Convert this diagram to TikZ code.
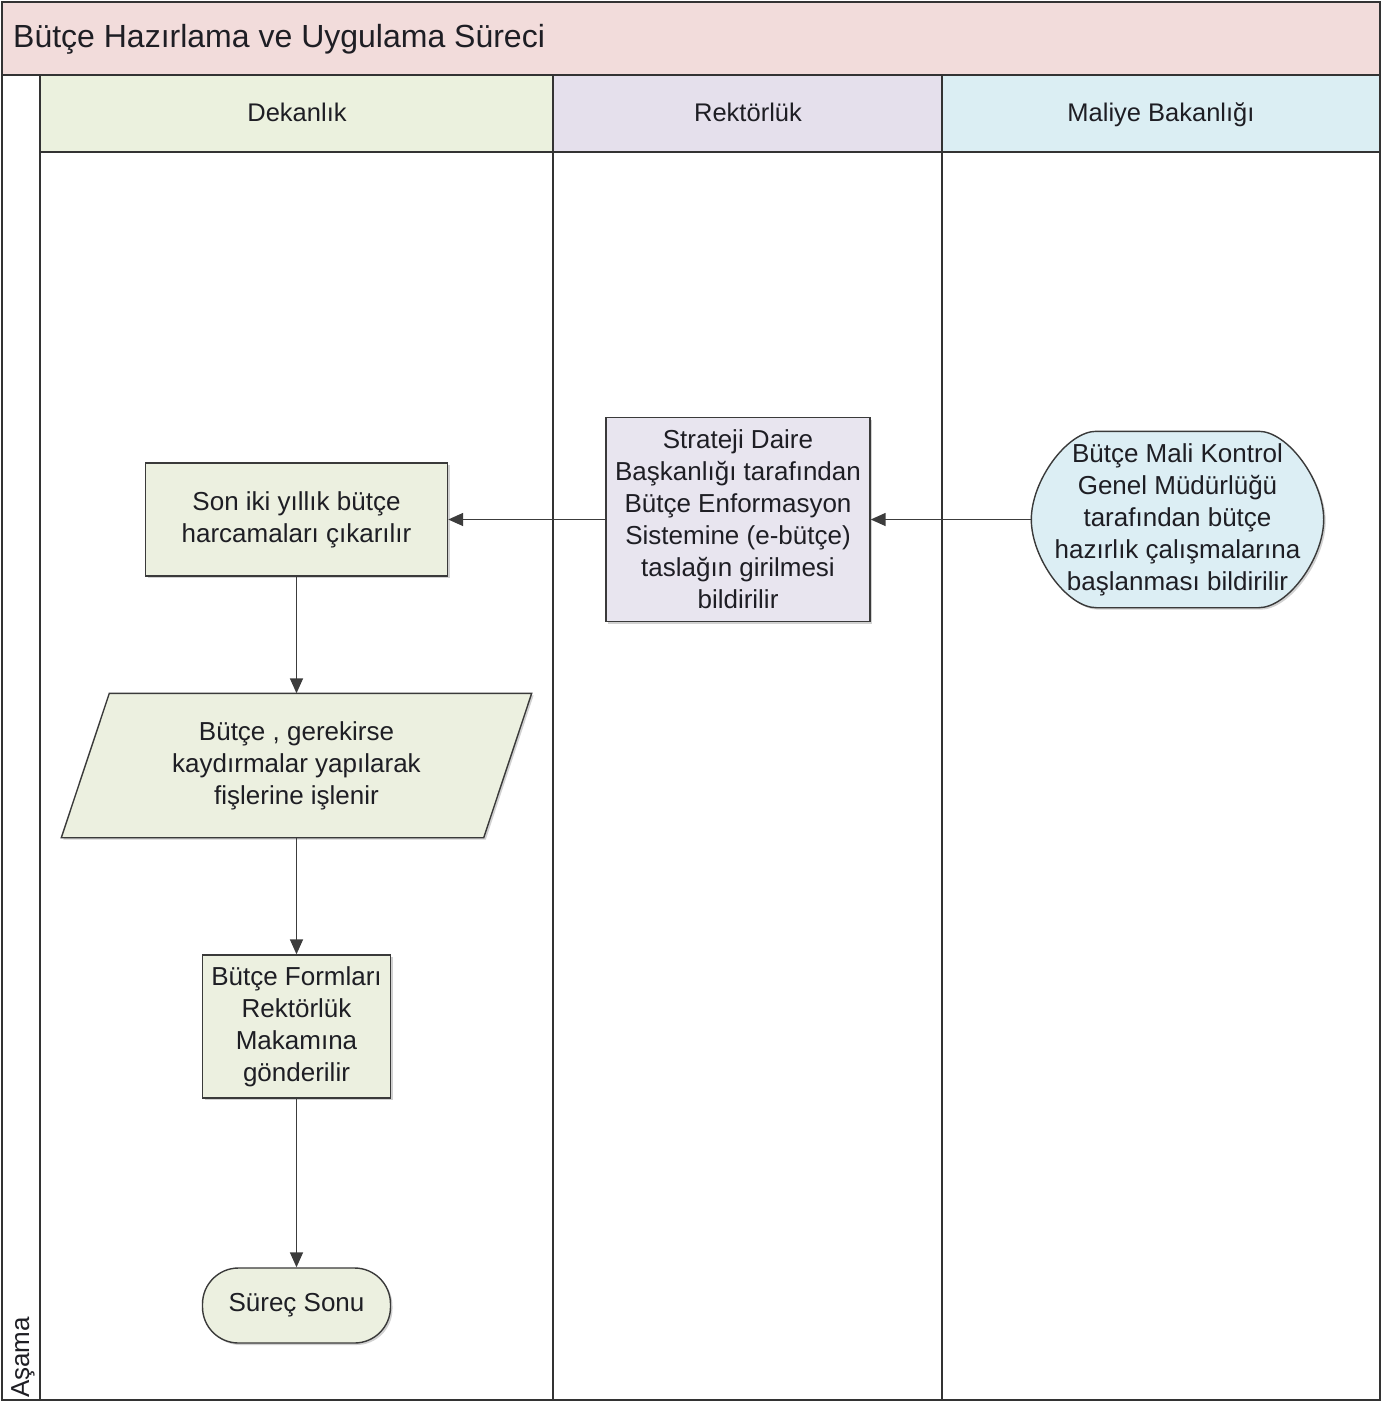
\documentclass[tikz,border=0pt]{standalone}
\usepackage{fontspec}
\setmainfont{Liberation Sans}
\usetikzlibrary{arrows.meta,shadows,backgrounds}

\definecolor{titlepink}{HTML}{F2DCDB}
\definecolor{hdrgreen}{HTML}{EBF1DE}
\definecolor{hdrlav}{HTML}{E5E0EC}
\definecolor{hdrblue}{HTML}{DBEEF3}
\definecolor{nodegreen}{HTML}{ECF0E0}
\definecolor{nodelav}{HTML}{E8E5EF}
\definecolor{nodeblue}{HTML}{DCEEF4}
\definecolor{framegray}{HTML}{333333}
\definecolor{boxline}{HTML}{3A3A3A}
\definecolor{arrowgray}{HTML}{3C3C3C}
\definecolor{textdark}{HTML}{1E1E24}

\begin{document}
\begin{tikzpicture}[x=1pt,y=-1pt,
  lane/.style={draw=framegray, line width=2.2pt},
  hdr/.style={font=\fontsize{25.5}{30}\selectfont, text=textdark, inner sep=0pt, anchor=base},
  box/.style={draw=boxline, line width=1.4pt, align=center,
    font=\fontsize{26}{32}\selectfont, text=textdark, inner sep=0pt},
  outline/.style={draw=boxline, line width=1.4pt},
  flow/.style={draw=arrowgray, line width=1.5pt,
    -{Triangle[length=15pt,width=13pt]}},
  shade/.style={drop shadow={shadow xshift=2pt,shadow yshift=-2pt,
    fill=black,opacity=0.18}}
]
\useasboundingbox (0,0) rectangle (1391,1402);
\begin{pgfonlayer}{background}
  \fill[white] (0,0) rectangle (1391,1402);
\end{pgfonlayer}

% title band and lane headers
\fill[titlepink] (2,2) rectangle (1380,75);
\fill[hdrgreen] (40,75) rectangle (553,152);
\fill[hdrlav] (553,75) rectangle (942,152);
\fill[hdrblue] (942,75) rectangle (1380,152);

% pool frame and lane separators
\draw[lane] (2,2) rectangle (1380,1400);
\draw[lane] (2,75) -- (1380,75);
\draw[lane] (40,75) -- (40,1400);
\draw[lane] (40,152) -- (1380,152);
\draw[lane] (553,75) -- (553,1400);
\draw[lane] (942,75) -- (942,1400);

% texts of the pool
\node[anchor=base west, inner sep=0pt, text=textdark, font=\fontsize{32}{36}\selectfont]
  (title) at (13,48) {Bütçe Hazırlama ve Uygulama Süreci};
\node[hdr] (hdek) at (297,121.5) {Dekanlık};
\node[hdr] (hrek) at (748,121.5) {Rektörlük};
\node[hdr] (hmal) at (1161,121.5) {Maliye Bakanlığı};
\node[rotate=90, anchor=west, inner sep=0pt, text=textdark,
  font=\fontsize{26}{30}\selectfont] (asama) at (23,1398) {Aşama};

% process steps
\node[box, fill=none, draw=none, minimum width=291pt, minimum height=175pt]
  (bmk) at (1177.5,519.5)
  {Bütçe Mali Kontrol\\Genel Müdürlüğü\\tarafından bütçe\\hazırlık çalışmalarına\\başlanması bildirilir};
\begin{pgfonlayer}{background}
  % terminator outline with oval ends
  \draw[outline, fill=nodeblue, shade]
    ([xshift=65pt]bmk.north west) -- ([xshift=-65pt]bmk.north east)
    .. controls ([xshift=-36pt]bmk.north east) and ([yshift=39pt]bmk.east) .. (bmk.east)
    .. controls ([yshift=-39pt]bmk.east) and ([xshift=-36pt]bmk.south east) .. ([xshift=-65pt]bmk.south east)
    -- ([xshift=65pt]bmk.south west)
    .. controls ([xshift=36pt]bmk.south west) and ([yshift=-39pt]bmk.west) .. (bmk.west)
    .. controls ([yshift=39pt]bmk.west) and ([xshift=36pt]bmk.north west) .. ([xshift=65pt]bmk.north west)
    -- cycle;
\end{pgfonlayer}

\node[box, fill=nodelav, minimum width=264pt, minimum height=204pt, shade]
  (sdb) at (738,519.5)
  {Strateji Daire\\Başkanlığı tarafından\\Bütçe Enformasyon\\Sistemine (e-bütçe)\\taslağın girilmesi\\bildirilir};

\node[box, fill=nodegreen, minimum width=302pt, minimum height=113pt, shade]
  (son) at (296.5,519.5) {Son iki yıllık bütçe\\harcamaları çıkarılır};

\node[box, fill=none, draw=none, minimum width=421pt, minimum height=143pt]
  (par) at (296.5,765.5) {Bütçe , gerekirse\\kaydırmalar yapılarak\\fişlerine işlenir};
\begin{pgfonlayer}{background}
  \draw[outline, fill=nodegreen, shade]
    ([xshift=24pt]par.north west) -- ([xshift=24pt]par.north east)
    -- ([xshift=-24pt]par.south east) -- ([xshift=-24pt]par.south west) -- cycle;
\end{pgfonlayer}

\node[box, fill=nodegreen, minimum width=188pt, minimum height=143pt, shade]
  (frm) at (296.5,1026.5) {Bütçe Formları\\Rektörlük\\Makamına\\gönderilir};

\node[box, fill=nodegreen, minimum width=188pt, minimum height=75pt,
  rounded corners=36pt, shade] (end) at (296.5,1305.5) {Süreç Sonu};

% connectors
\draw[flow] (bmk) -- (sdb);
\draw[flow] (sdb) -- (son);
\draw[flow] (son) -- (par);
\draw[flow] (par) -- (frm);
\draw[flow] (frm) -- (end);
\end{tikzpicture}
\end{document}
